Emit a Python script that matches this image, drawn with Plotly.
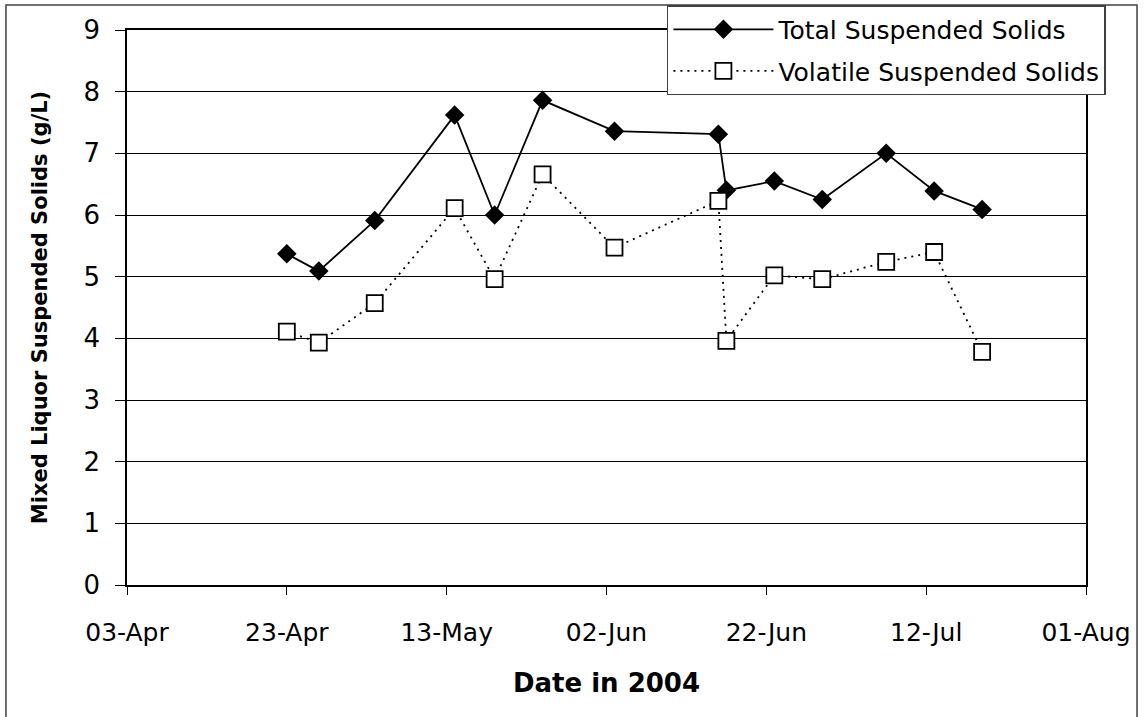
import plotly.graph_objects as go

dates = ["2004-04-23", "2004-04-27", "2004-05-04", "2004-05-14", "2004-05-19",
         "2004-05-25", "2004-06-03", "2004-06-16", "2004-06-17", "2004-06-23",
         "2004-06-29", "2004-07-07", "2004-07-13", "2004-07-19"]
tss = [5.37, 5.09, 5.91, 7.62, 6.00, 7.86, 7.36, 7.31, 6.40, 6.55, 6.25, 7.00, 6.39, 6.09]
vss = [4.11, 3.93, 4.57, 6.11, 4.96, 6.66, 5.47, 6.23, 3.96, 5.02, 4.96, 5.24, 5.40, 3.78]

series_names = ["Total Suspended Solids", "Volatile Suspended Solids"]
x_title = "Date in 2004"
y_title = "Mixed Liquor Suspended Solids (g/L)"
x_range = ["2004-04-03", "2004-08-01"]
y_range = [0, 9]

FONT = "DejaVu Sans"

fig = go.Figure()
fig.add_trace(go.Scatter(
    x=dates, y=tss, name=series_names[0], mode="lines+markers",
    line=dict(color="black", width=1.8),
    marker=dict(symbol="diamond", size=15, color="black"),
    legendgroup="a",
))
fig.add_trace(go.Scatter(
    x=dates, y=vss, name=series_names[1], mode="lines+markers",
    line=dict(color="black", width=1.8, dash="2px,5px"),
    marker=dict(symbol="square", size=16, color="white",
                line=dict(color="black", width=1.8)),
    legendgroup="b",
))

fig.update_layout(
    width=1144, height=717,
    margin=dict(l=127, r=58, t=30, b=132, autoexpand=False),
    paper_bgcolor="white", plot_bgcolor="white",
    font=dict(family=FONT, color="black"),
    showlegend=True,
    legend=dict(
        x=0.563, y=1.045, xanchor="left", yanchor="top",
        bgcolor="white", bordercolor="#404040", borderwidth=1.5,
        font=dict(family=FONT, size=25, color="black"),
        traceorder="grouped", tracegroupgap=6, itemwidth=100,
    ),
    shapes=[dict(type="rect", xref="paper", yref="paper",
                 x0=-0.1262, x1=1.0532, y0=-0.3, y1=1.045,
                 line=dict(color="#404040", width=1.5), layer="below")],
)

fig.update_xaxes(
    type="date", range=x_range, tick0="2004-04-03", dtick=20 * 86400000,
    tickformat="%d-%b", tickangle=0, showgrid=False, zeroline=False,
    showline=True, linecolor="black", linewidth=1.5, mirror=True,
    ticks="outside", ticklen=8, tickcolor="black", tickwidth=1.2,
    tickfont=dict(family=FONT, size=25),
    ticklabelstandoff=16,
    title=dict(text="<b>" + x_title + "</b>", font=dict(family=FONT, size=26), standoff=28),
)
fig.update_yaxes(
    range=y_range, dtick=1, showgrid=True, gridcolor="black", gridwidth=1,
    zeroline=False, showline=True, linecolor="black", linewidth=1.5, mirror=True,
    ticks="outside", ticklen=10, tickcolor="black", tickwidth=1.2,
    tickfont=dict(family=FONT, size=26),
    ticklabelstandoff=10,
    title=dict(text="<b>" + y_title + "</b>", font=dict(family=FONT, size=21), standoff=30),
)

fig.write_html("out.html")
